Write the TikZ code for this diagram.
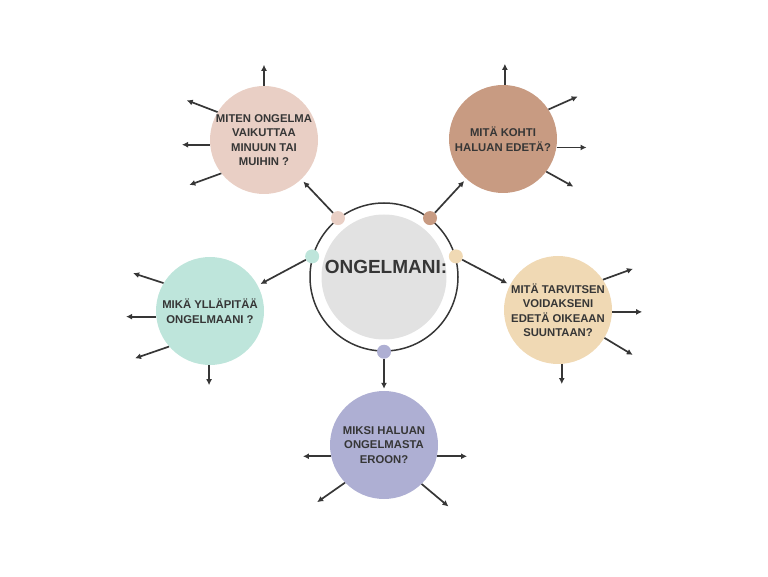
\documentclass[tikz,border=0pt]{standalone}
\usepackage{fontspec}
\setmainfont{Liberation Sans}
\usepackage{xcolor}
\definecolor{ONGink}{HTML}{363636}
\definecolor{ONGgray}{HTML}{E2E2E2}
\definecolor{ONGpink}{HTML}{E9CFC5}
\definecolor{ONGbrown}{HTML}{C89B82}
\definecolor{ONGmint}{HTML}{BEE5DB}
\definecolor{ONGpeach}{HTML}{F0D9B4}
\definecolor{ONGlilac}{HTML}{AEAFD3}
\usepackage{tikz}
\usetikzlibrary{arrows.meta}

\begin{document}
\begin{tikzpicture}[
  x=1pt, y=1pt,
  kysymys/.style={circle, minimum size=108pt, inner sep=-3pt,
    align=center, text=ONGink, font=\fontsize{11.3}{14.5}\selectfont\bfseries},
  piste/.style={circle, minimum size=14pt, inner sep=0pt},
  nuoli/.style={draw=ONGink, line width=1.7pt, -{Latex[length=6pt,width=6pt]}}
]
\useasboundingbox (0,0) rectangle (768,576);
% keskusta
\node[circle, draw=ONGink, line width=1.5pt, minimum size=148pt] (rengas) at (384,299) {};
\node[circle, fill=ONGgray, minimum size=125pt] (ongelma) at (384,299) {};
\node[text=ONGink, font=\fontsize{19}{21}\selectfont\bfseries] (otsikko) at (386,309) {ONGELMANI:};
% kysymykset
\node[kysymys, fill=ONGpink] (vaikutus) at (264,436) {MITEN ONGELMA\\VAIKUTTAA\\MINUUN TAI\\MUIHIN ?};
\node[kysymys, fill=ONGbrown] (suunta) at (503,437) {MITÄ KOHTI\\HALUAN EDETÄ?};
\node[kysymys, fill=ONGmint] (yllapito) at (210,265) {MIKÄ YLLÄPITÄÄ\\ONGELMAANI ?};
\node[kysymys, fill=ONGpeach] (tarve) at (558,266) {MITÄ TARVITSEN\\VOIDAKSENI\\EDETÄ OIKEAAN\\SUUNTAAN?};
\node[kysymys, fill=ONGlilac] (syy) at (384,131) {MIKSI HALUAN\\ONGELMASTA\\EROON?};
% pisteet renkaalla
\node[piste, fill=ONGpink] (p1) at (rengas.128) {};
\node[piste, fill=ONGbrown] (p2) at (rengas.52) {};
\node[piste, fill=ONGmint] (p3) at (rengas.164) {};
\node[piste, fill=ONGpeach] (p4) at (rengas.16) {};
\node[piste, fill=ONGlilac] (p5) at (rengas.270) {};
\draw[nuoli, shorten >=3pt] (p1) -- (vaikutus);
\draw[nuoli, shorten >=3pt] (p2) -- (suunta);
\draw[nuoli, shorten >=3pt] (p3) -- (yllapito);
\draw[nuoli, shorten >=3pt] (p4) -- (tarve);
\draw[nuoli, shorten >=2pt] (p5) -- (syy);
% nuolet ulospäin
\foreach \s/\d/\l in {90/90/21, 149/159/33, 185/180/28, 218/200/34}
  \draw[nuoli] (vaikutus.\s) -- ++(\d:\l);
\foreach \s/\d/\l in {88/90/21, 33/24/32, -9/0/30, -37/-29/31}
  \draw[nuoli] (suunta.\s) -- ++(\d:\l);
\foreach \s/\d/\l in {149/162/32, 186/180/30, 221/199/36, 269/270/20}
  \draw[nuoli] (yllapito.\s) -- ++(\d:\l);
\foreach \s/\d/\l in {34/20/32, -2/0/30, -31/-31/33, -86/270/20}
  \draw[nuoli] (tarve.\s) -- ++(\d:\l);
\foreach \s/\d/\l in {192/180/28, 348/0/30, 224/215/34, -46/-40/35}
  \draw[nuoli] (syy.\s) -- ++(\d:\l);
\end{tikzpicture}
\end{document}
